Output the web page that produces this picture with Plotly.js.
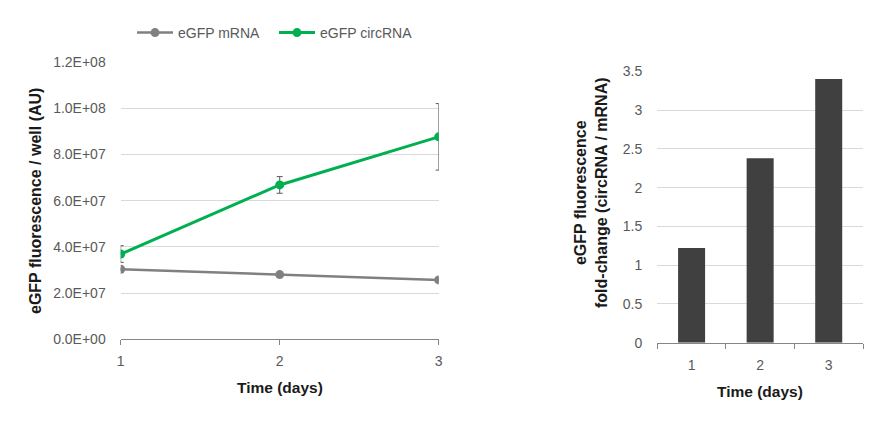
<!DOCTYPE html>
<html>
<head>
<meta charset="utf-8">
<script src="https://cdn.plot.ly/plotly-3.0.1.min.js"></script>
<style>html,body{margin:0;padding:0;background:#fff;}#chart{width:884px;height:425px;}</style>
</head>
<body>
<div id="chart"></div>
<script>
// ---- data ----
const days = [1, 2, 3];
const mrnaValues = [3.03e7, 2.80e7, 2.57e7];
const mrnaErrors = [0.05e7, 0.05e7, 0.1e7];
const circValues = [3.69e7, 6.68e7, 8.76e7];
const circErrors = [0.36e7, 0.36e7, 1.44e7];
const foldCategories = ['1', '2', '3'];
const foldValues = [1.22, 2.38, 3.40];
const leftTickVals = [0, 2e7, 4e7, 6e7, 8e7, 1e8, 1.2e8];
const leftTickText = ['0.0E+00', '2.0E+07', '4.0E+07', '6.0E+07', '8.0E+07', '1.0E+08', '1.2E+08'];

const W = 884, H = 425;
const px = v => v / W, py = v => 1 - v / H;
const FONT = 'Liberation Sans, Arial, sans-serif';
const tickFont = {family: FONT, size: 14, color: '#595959'};
const titleFontX = {family: FONT, size: 15.5, color: '#1a1a1a'};
const titleFontY = {family: FONT, size: 16, color: '#1a1a1a'};

const traces = [
  {
    x: days, y: mrnaValues, name: 'eGFP mRNA', type: 'scatter', mode: 'lines+markers',
    line: {color: '#808080', width: 2.5}, marker: {color: '#808080', size: 9},
    error_y: {type: 'data', array: mrnaErrors, visible: true, color: '#595959', thickness: 1, width: 3},
    xaxis: 'x', yaxis: 'y'
  },
  {
    x: days, y: circValues, name: 'eGFP circRNA', type: 'scatter', mode: 'lines+markers',
    line: {color: '#00B050', width: 3}, marker: {color: '#00B050', size: 9},
    error_y: {type: 'data', array: circErrors, visible: true, color: '#595959', thickness: 1, width: 3},
    xaxis: 'x', yaxis: 'y'
  },
  {
    x: foldCategories, y: foldValues, type: 'bar', showlegend: false,
    marker: {color: '#404040'}, xaxis: 'x2', yaxis: 'y2'
  }
];

const layout = {
  width: W, height: H,
  margin: {l: 0, r: 0, t: 0, b: 0},
  paper_bgcolor: '#fff', plot_bgcolor: '#fff',
  showlegend: true,
  bargap: 0.606,
  legend: {
    orientation: 'h', x: px(132), xanchor: 'left', y: py(33), yanchor: 'middle',
    font: {family: FONT, size: 14, color: '#595959'}, itemwidth: 36, traceorder: 'normal',
    entrywidth: 91
  },
  xaxis: {
    domain: [px(120.7), px(438.7)], range: [1, 3], anchor: 'y',
    tickvals: days, ticks: 'outside', ticklen: 5, tickcolor: '#868686', ticklabelstandoff: 4,
    showline: true, linecolor: '#868686', linewidth: 1, showgrid: false, zeroline: false,
    tickfont: tickFont, fixedrange: true
  },
  yaxis: {
    domain: [py(339.3), py(62)], range: [0, 1.2e8], anchor: 'x',
    tickvals: leftTickVals, ticktext: leftTickText, ticks: '', ticklabelstandoff: 14,
    showgrid: true, gridcolor: '#d9d9d9', gridwidth: 1, zeroline: false, showline: false,
    tickfont: tickFont, fixedrange: true
  },
  xaxis2: {
    domain: [px(657.3), px(863)], type: 'category', anchor: 'y2',
    ticks: 'outside', tickson: 'boundaries', ticklen: 5, tickcolor: '#868686', ticklabelstandoff: 9,
    showline: true, linecolor: '#868686', linewidth: 1, showgrid: false,
    tickfont: tickFont, fixedrange: true
  },
  yaxis2: {
    domain: [py(342.7), py(71.3)], range: [0, 3.5], dtick: 0.5, anchor: 'x2',
    ticks: '', ticklabelstandoff: 14,
    showgrid: true, gridcolor: '#d9d9d9', gridwidth: 1, zeroline: false, showline: false,
    tickfont: tickFont, fixedrange: true
  },
  annotations: [
    {text: '<b>eGFP fluorescence / well (AU)</b>', xref: 'paper', yref: 'paper', x: px(36), y: py(201),
     textangle: -90, showarrow: false, font: titleFontY, xanchor: 'center', yanchor: 'middle'},
    {text: '<b>Time (days)</b>', xref: 'paper', yref: 'paper', x: px(280), y: py(387),
     showarrow: false, font: titleFontX, xanchor: 'center', yanchor: 'middle'},
    {text: '<b>eGFP fluorescence<br>fold-change (circRNA / mRNA)</b>', xref: 'paper', yref: 'paper', x: px(591), y: py(193),
     textangle: -90, showarrow: false, font: titleFontY, xanchor: 'center', yanchor: 'middle'},
    {text: '<b>Time (days)</b>', xref: 'paper', yref: 'paper', x: px(760), y: py(391),
     showarrow: false, font: titleFontX, xanchor: 'center', yanchor: 'middle'}
  ]
};

Plotly.newPlot('chart', traces, layout, {displayModeBar: false, staticPlot: true});
</script>
</body>
</html>
